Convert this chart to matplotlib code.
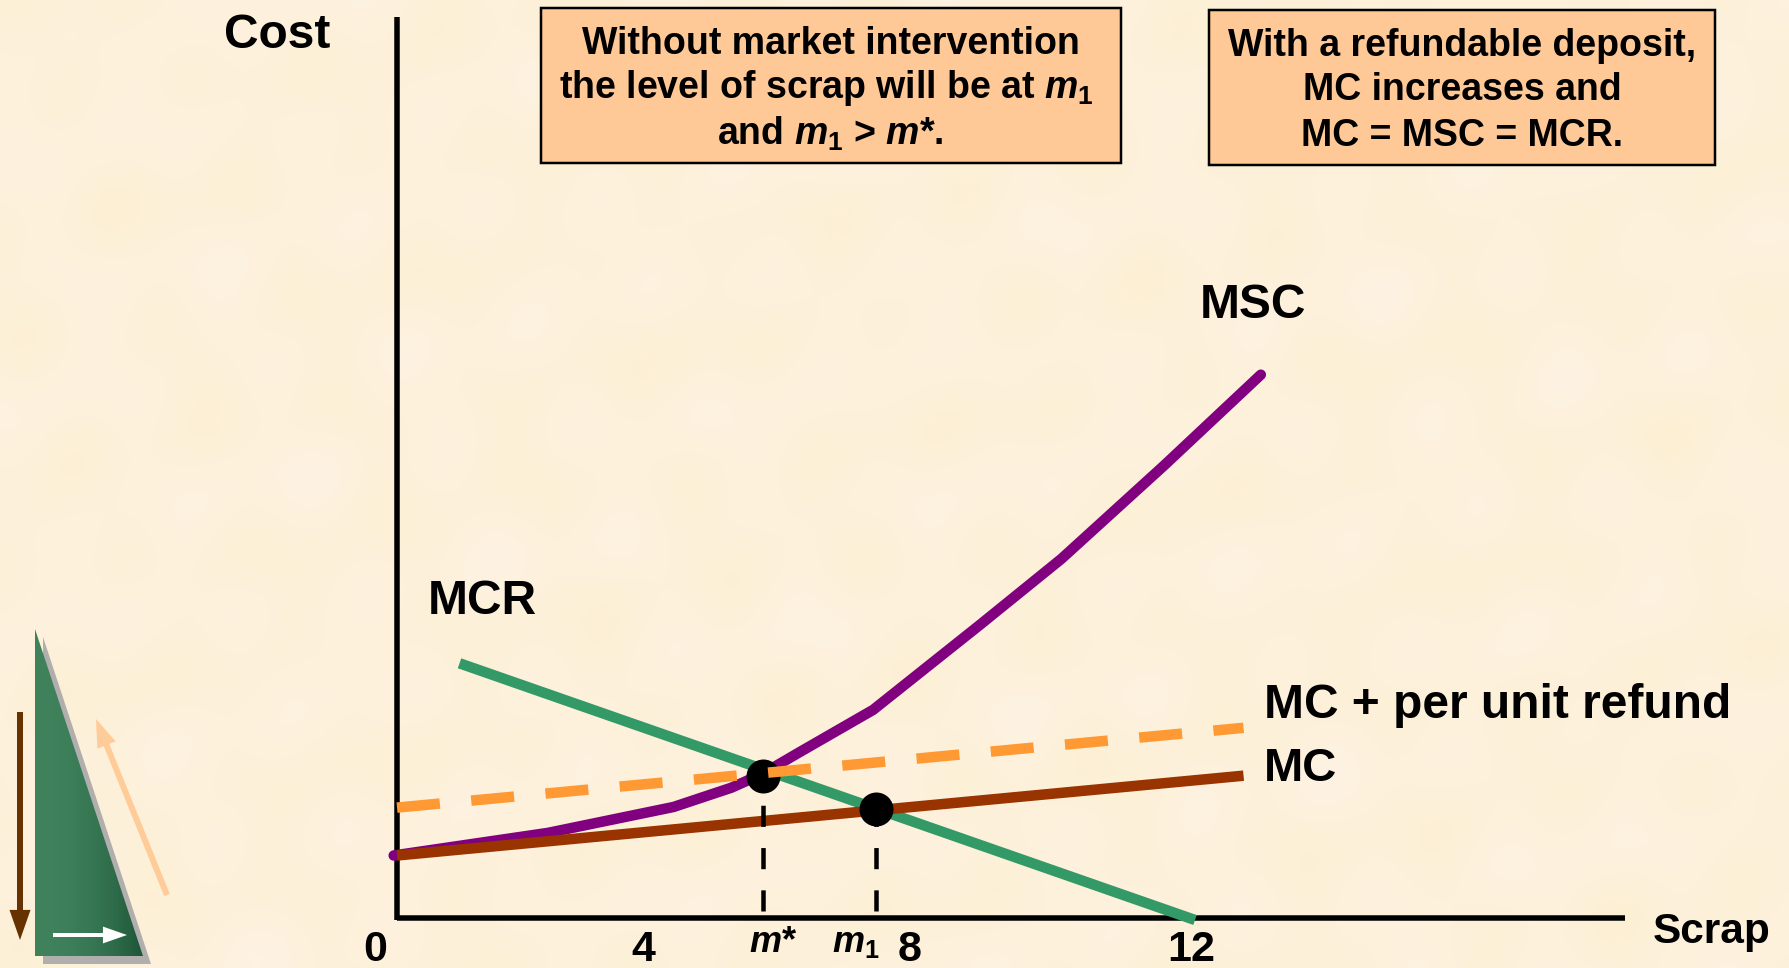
import numpy as np
import matplotlib
matplotlib.use("Agg")
import matplotlib.pyplot as plt
from matplotlib.patches import Polygon, Rectangle, FancyArrowPatch

plt.rcParams['font.family'] = ['Liberation Sans', 'DejaVu Sans']
plt.rcParams['font.weight'] = 'bold'
plt.rcParams['mathtext.fontset'] = 'custom'
plt.rcParams['mathtext.rm'] = 'Liberation Sans:bold'
plt.rcParams['mathtext.it'] = 'Liberation Sans:italic:bold'
plt.rcParams['mathtext.bf'] = 'Liberation Sans:bold'

# Curve values (scrap quantity, cost)
msc_x = [-0.05, 2.27, 4.16, 5.03, 5.5, 6.03, 7.16, 8.78, 9.99, 11.53, 12.99]
msc_y = [0.94, 1.28, 1.67, 1.96, 2.17, 2.48, 3.13, 4.42, 5.40, 6.80, 8.17]
mcr_x = [0.94, 12.0]
mcr_y = [3.83, -0.03]
mc_x = [0.0, 12.73]
mc_y = [0.94, 2.14]
refund_y = [1.66, 2.86]
m_star = (5.51, 2.14)
m_one = (7.2, 1.64)
x_ticks = [(-0.33, '0'), (3.70, '4'), (7.71, '8'), (11.94, '12')]

W, H = 1789, 968
BG = '#FDF1DB'
fig = plt.figure(figsize=(W / 100, H / 100), dpi=100, facecolor=BG)

# Data axes: the whole figure, scaled so 1 unit = 66.5 px, origin at (397, 918)
ax = fig.add_axes([0, 0, 1, 1])
ax.set_xlim(-397 / 66.5, (W - 397) / 66.5)
ax.set_ylim(-(H - 918) / 66.5, 918 / 66.5)
ax.axis('off')
PX = 0.72  # points per pixel


def lw(px):
    return px * PX


# Pixel overlay for decoration and annotation
dec = fig.add_axes([0, 0, 1, 1], zorder=-1)

# Soft paper mottling made from overlaid waves
yy, xx = np.mgrid[0:H:4, 0:W:4]
tex = (np.sin(xx / 61 + yy / 37) + np.sin(xx / 23 - yy / 47 + 1.3) + np.sin(xx / 113 + yy / 19 + 2.1)
       + np.sin(xx / 17 + yy / 29 + 0.6) * 0.6 + np.sin((xx - yy) / 41) * np.sin((xx + yy) / 71))
tex = tex / np.abs(tex).max()
base = np.array([0xFD, 0xF1, 0xDB]) / 255
tint = np.array([-0.004, -0.006, -0.030])
dec.imshow(np.clip(base[None, None, :] + tex[:, :, None] * tint[None, None, :], 0, 1),
           extent=(0, W, H, 0), aspect='auto', interpolation='bilinear', zorder=0)

# Triangle ornament
dec.add_patch(Polygon([(43, 637), (151, 964), (43, 964)], closed=True, fc='#B1AEAE', ec='none', zorder=1))
grad = np.linspace(0, 1, 256)[None, :] ** 2.2
c0, c1 = np.array([0x3F, 0x82, 0x5C]) / 255, np.array([0x1D, 0x55, 0x37]) / 255
img = c0[None, None, :] + (c1 - c0)[None, None, :] * grad[:, :, None]
im = dec.imshow(img, extent=(35, 143, 956, 629), aspect='auto', zorder=2)
tri = Polygon([(35, 629), (143, 956), (35, 956)], closed=True, transform=dec.transData, fc='none', ec='none')
dec.add_patch(tri)
im.set_clip_path(tri)
dec.set_xlim(0, W)
dec.set_ylim(H, 0)
dec.axis('off')
for (a, b, col, wd, hl, hw) in [((20, 712), (20, 940), '#663300', 6, 18, 9),
                                ((53, 935), (127, 935), '#FFFFFF', 4, 16, 8),
                                ((167, 895), (96, 719), '#FFCC99', 6, 16, 8)]:
    dec.add_patch(FancyArrowPatch(a, b, color=col, lw=lw(wd), zorder=3, shrinkA=0, shrinkB=0,
                                  mutation_scale=1, joinstyle='miter', capstyle='butt',
                                  arrowstyle=f'-|>,head_length={hl * PX},head_width={hw * PX * 0.7}'))

# Axes lines
dec.plot([397, 397], [17, 920], color='k', lw=lw(5.5), solid_capstyle='butt', zorder=2)
dec.plot([397, 1625], [918, 918], color='k', lw=lw(5.5), solid_capstyle='butt', zorder=2)

# Curves
ax.plot(mcr_x, mcr_y, color='#339966', lw=lw(10.5), solid_capstyle='butt', zorder=3)
ax.plot(msc_x, msc_y, color='#800080', lw=lw(10.5), solid_capstyle='round', zorder=4)
ax.plot(mc_x, mc_y, color='#993300', lw=lw(10.5), solid_capstyle='butt', zorder=5)
for (px_, py_) in (m_star, m_one):
    ax.plot([px_, px_], [0.1, py_], color='k', lw=lw(4.5), zorder=5,
            linestyle=(0, (4.7, 4.7)), dash_capstyle='butt')
ax.plot(*zip(m_star, m_one), ls='none', marker='o', ms=34 * PX, color='k', mec='none', zorder=6)
ax.plot(mc_x, refund_y, color='#FF9933', lw=lw(10.5), zorder=7, linestyle=(0, (4.1, 3.0)),
        dash_capstyle='butt')

# Labels
dec_kw = dict(color='k', fontweight='bold')
ax.text(-(397 - 224) / 66.5, (918 - 35) / 66.5, 'Cost', fontsize=34.5, ha='left', va='center', **dec_kw)
ax.text((1200 - 397) / 66.5, (918 - 306) / 66.5, 'MSC', fontsize=34.5, ha='left', va='center', **dec_kw)
ax.text((428 - 397) / 66.5, (918 - 602) / 66.5, 'MCR', fontsize=34.5, ha='left', va='center', **dec_kw)
ax.text((1264 - 397) / 66.5, (918 - 706) / 66.5, 'MC + per unit refund', fontsize=34.5, ha='left', va='center', **dec_kw)
ax.text((1264 - 397) / 66.5, (918 - 769) / 66.5, 'MC', fontsize=34, ha='left', va='center', **dec_kw)
ax.text((1653 - 397) / 66.5, (918 - 932) / 66.5, 'Scrap', fontsize=30.5, ha='left', va='center', **dec_kw)
for xv, lab in x_ticks:
    ax.text(xv, (918 - 950) / 66.5, lab, fontsize=31, ha='center', va='center', **dec_kw)
ax.text(m_star[0] + 0.14, (918 - 942) / 66.5, r'$m$*', fontsize=26, ha='center', va='center', **dec_kw)
ax.text(m_one[0] - 0.3, (918 - 943) / 66.5, r'$m_{\mathit{1}}$', fontsize=26, ha='center', va='center', **dec_kw)

# Callout boxes
for (x0, y0, x1, y1, lines, shifts) in [
    (541, 8, 1121, 163, ['Without market intervention', r'the level of scrap will be at $m_{\mathit{1}}$',
                         r'and $m_{\mathit{1}}$ > $m$*.'], [0, -5, -1]),
    (1209, 10, 1715, 165, ['With a refundable deposit,', 'MC increases and', 'MC = MSC = MCR.'], [0, 0, 0]),
]:
    dec.add_patch(Rectangle((x0, y0), x1 - x0, y1 - y0, fc='#FFC997', ec='k', lw=lw(2.5), zorder=2))
    cy = (y0 + y1) / 2 + 3
    for i, line in enumerate(lines):
        dec.text((x0 + x1) / 2 + shifts[i], cy + (i - 1) * 45, line, fontsize=27, ha='center', va='center',
                 zorder=3, **dec_kw)

fig.savefig('out.png', dpi=100, facecolor=BG)
